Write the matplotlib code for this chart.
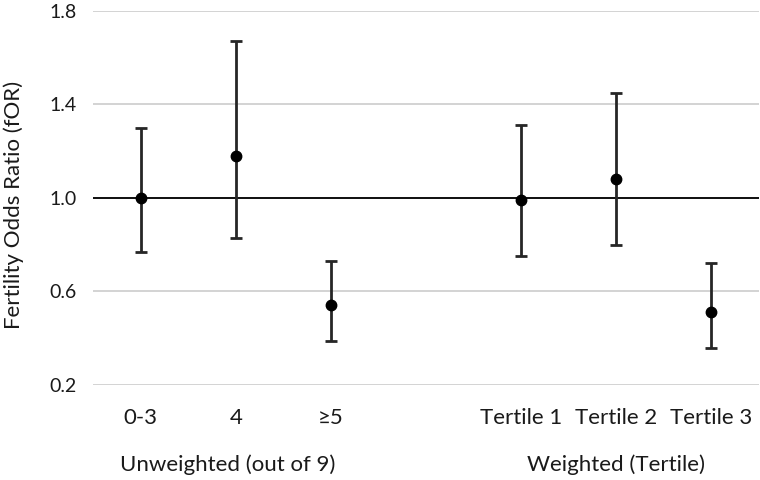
import matplotlib
matplotlib.use("Agg")
import matplotlib.pyplot as plt
from matplotlib.transforms import blended_transform_factory

plt.rcParams['font.family'] = ['Lato', 'DejaVu Sans']

positions = [0, 1, 2, 4, 5, 6]
labels = ["0-3", "4", "≥5", "Tertile 1", "Tertile 2", "Tertile 3"]
estimate = [1.00, 1.18, 0.54, 0.99, 1.08, 0.51]
lower = [0.77, 0.83, 0.39, 0.75, 0.80, 0.36]
upper = [1.30, 1.67, 0.73, 1.31, 1.45, 0.72]
group_labels = ["Unweighted (out of 9)", "Weighted (Tertile)"]
group_pos = [0.92, 5]
yticks = [0.2, 0.6, 1.0, 1.4, 1.8]

W, H = 760, 480
fig = plt.figure(figsize=(W / 100, H / 100), dpi=100)
left, right, top, bottom = 93, 759, 10.7, 385
ax = fig.add_axes([left / W, (H - bottom) / H, (right - left) / W, (bottom - top) / H])

ax.set_xlim(-0.5, 6.5)
ax.set_ylim(0.2, 1.8)
ax.set_yticks(yticks)
ax.set_yticklabels([f"{v:.1f}" for v in yticks], fontsize=14, color="#1a1a1a")
ax.tick_params(axis='y', length=0, pad=12)
ax.set_xticks([])
for s in ax.spines.values():
    s.set_visible(False)
ax.grid(axis='y', color="#d0d0d0", linewidth=1.3)
ax.set_axisbelow(True)
ax.axhline(1.0, color="black", linewidth=1.3, zorder=2)

err_lo = [e - l for e, l in zip(estimate, lower)]
err_hi = [u - e for e, u in zip(estimate, upper)]
ax.errorbar(positions, estimate, yerr=[err_lo, err_hi], fmt='o', color="black",
            ecolor="#262626", elinewidth=2, capsize=4.5, capthick=2, markersize=7.5, zorder=3)

trans = blended_transform_factory(ax.transData, ax.transAxes)
for p, lab in zip(positions, labels):
    ax.text(p, -0.0874, lab, transform=trans, ha='center', va='center', fontsize=16, color="#1a1a1a")
for p, lab in zip(group_pos, group_labels):
    ax.text(p, -0.2137, lab, transform=trans, ha='center', va='center', fontsize=16, color="#1a1a1a")

fig.text(14 / W, 1 - 205 / H, "Fertility Odds Ratio (fOR)", rotation=90,
         ha='center', va='center', fontsize=16, color="#1a1a1a")

fig.savefig("out.png", dpi=100)
